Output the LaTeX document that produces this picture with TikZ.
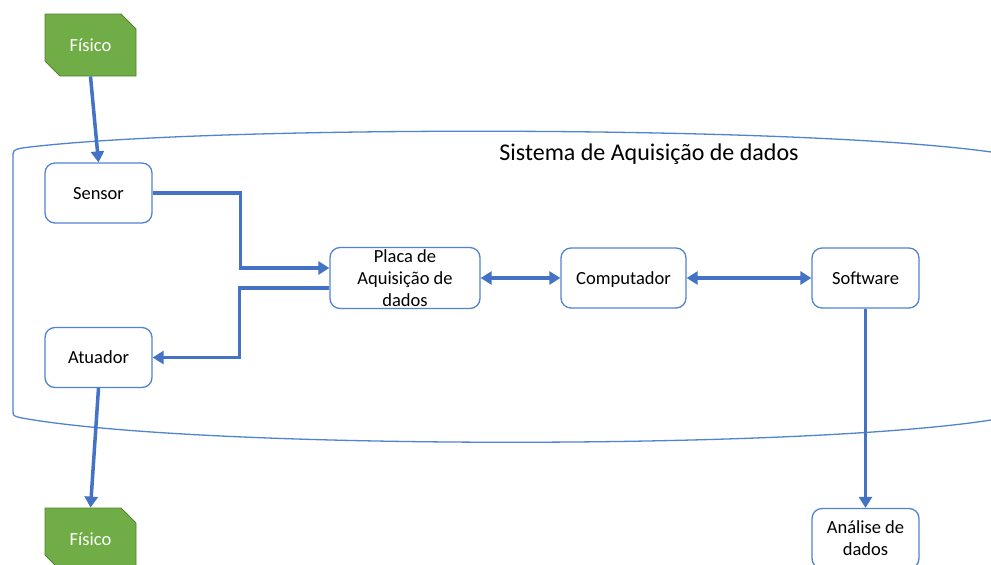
\documentclass[tikz,border=0pt]{standalone}
\usepackage{fontspec}
\setmainfont{Carlito}
\usetikzlibrary{arrows.meta,shapes.misc}
\definecolor{blueline}{HTML}{4472C4}
\definecolor{boxline}{HTML}{5283D2}
\definecolor{greenfill}{HTML}{70AD47}
\definecolor{greenline}{HTML}{548235}
\tikzset{
  box/.style={draw=boxline, line width=1.3pt, rounded corners=10pt, fill=white,
    minimum width=107pt, minimum height=60pt, inner sep=2pt, align=center,
    font=\fontsize{18.5}{22}\selectfont},
  oneline/.style={text height=12pt, text depth=0pt},
  fisico/.style={chamfered rectangle, chamfered rectangle corners={north east,south west},
    chamfered rectangle xsep=9pt, chamfered rectangle ysep=9pt,
    draw=greenline, line width=0.8pt, fill=greenfill, text=white,
    minimum width=91pt, minimum height=62pt, inner sep=0pt,
    text height=12pt, text depth=0pt,
    font=\fontsize{18.5}{22}\selectfont},
  arr/.style={draw=blueline, line width=3.5pt, -{Triangle[length=11pt,width=13pt]}},
  darr/.style={draw=blueline, line width=3.5pt, {Triangle[length=11pt,width=13pt]}-{Triangle[length=11pt,width=13pt]}},
  container/.style={draw=boxline, line width=1.3pt},
  title/.style={font=\fontsize{24}{28}\selectfont, inner sep=0pt}
}
\begin{document}
\begin{tikzpicture}[x=1pt,y=-1pt]
\clip (0,0) rectangle (991,565);
\fill[white] (0,0) rectangle (991,565);
% container
\draw[container] (991,152) .. controls (800,125) and (200,125) .. (22,148)
  .. controls (13,150) .. (13,158) -- (13,410)
  .. controls (13,416) .. (22,418) .. controls (200,450) and (800,450) .. (991,420);
\node[title] (sys) at (649,154) {Sistema de Aquisição de dados};
% nodes
\node[fisico] (f1) at (90.5,45) {Físico};
\node[fisico] (f2) at (90.5,539) {Físico};
\node[box, oneline] (sensor) at (98.5,193) {Sensor};
\node[box, oneline] (atuador) at (98.5,357.5) {Atuador};
\node[box, minimum width=150pt] (placa) at (405,278) {Placa de\\Aquisição de\\dados};
\node[box, oneline, minimum width=125pt] (comp) at (623.5,278) {Computador};
\node[box, oneline] (soft) at (865.5,278) {Software};
\node[box] (anal) at (865.5,538.5) {Análise de\\dados};
% connectors
\draw[arr] (f1.south) -- (sensor.north);
\draw[arr] (atuador.south) -- (f2.north);
\draw[arr] (sensor.east) -- ++(88,0) |- ([yshift=10pt]placa.west);
\draw[arr] ([yshift=-10pt]placa.west) -- ++(-90,0) |- (atuador.east);
\draw[darr] (placa.east) -- (comp.west);
\draw[darr] (comp.east) -- (soft.west);
\draw[arr] (soft.south) -- (anal.north);
\end{tikzpicture}
\end{document}
